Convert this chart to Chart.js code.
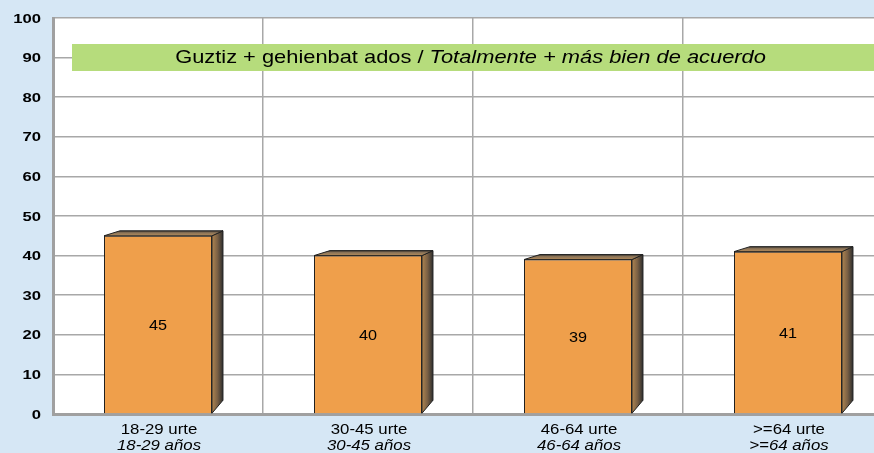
<!DOCTYPE html>
<html>
<head>
<meta charset="utf-8">
<script src="https://cdn.jsdelivr.net/npm/chart.js@4"></script>
<style>
  html, body { margin: 0; padding: 0; background: #d6e7f5; overflow: hidden; }
  #wrap { width: 900px; height: 453px; }
</style>
</head>
<body>
<div id="wrap"><canvas id="chart3d"></canvas></div>
<script>
// datos del grafico
const labelsEu = ['18-29 urte', '30-45 urte', '46-64 urte', '>=64 urte'];
const labelsEs = ['18-29 años', '30-45 años', '46-64 años', '>=64 años'];
const valores = [45, 40, 39, 41];
const yTicks = [0, 10, 20, 30, 40, 50, 60, 70, 80, 90, 100];
const tituloEu = 'Guztiz + gehienbat ados / ';
const tituloEs = 'Totalmente + más bien de acuerdo';

const FONT = '"Liberation Sans", Arial, sans-serif';

// texto algo estirado en horizontal, como en la imagen original
function texto(ctx, str, x, y, font, sx, align) {
    ctx.save();
    ctx.font = font;
    ctx.textBaseline = 'middle';
    ctx.textAlign = align || 'center';
    ctx.translate(x, y);
    ctx.scale(sx, 1);
    ctx.fillText(str, 0, 0);
    ctx.restore();
}

// barras con efecto 3d: cara superior y lateral
const bar3d = {
    id: 'bar3d',
    afterDatasetsDraw(chart) {
        const ctx = chart.ctx;
        const meta = chart.getDatasetMeta(0);
        meta.data.forEach((bar, i) => {
            const half = bar.width / 2;
            const l = bar.x - half, r = bar.x + half;
            const t = bar.y, b = bar.base;
            ctx.save();
            ctx.strokeStyle = '#222';
            ctx.lineWidth = 1;
            // lateral
            let g = ctx.createLinearGradient(r, 0, r + 11, 0);
            g.addColorStop(0, '#b08550');
            g.addColorStop(0.5, '#7a6045');
            g.addColorStop(1, '#2e2e2e');
            ctx.fillStyle = g;
            ctx.beginPath();
            ctx.moveTo(r, t);
            ctx.lineTo(r + 11, t - 5);
            ctx.lineTo(r + 11, b - 13);
            ctx.lineTo(r, b);
            ctx.closePath();
            ctx.fill();
            ctx.stroke();
            // arriba
            g = ctx.createLinearGradient(0, t - 5, 0, t);
            g.addColorStop(0, '#3a3530');
            g.addColorStop(0.4, '#8c7458');
            g.addColorStop(1, '#b48a58');
            ctx.fillStyle = g;
            ctx.beginPath();
            ctx.moveTo(l, t);
            ctx.lineTo(l + 16, t - 5);
            ctx.lineTo(r + 11, t - 5);
            ctx.lineTo(r, t);
            ctx.closePath();
            ctx.fill();
            ctx.stroke();
            ctx.restore();
            // etiqueta
            ctx.fillStyle = '#000';
            texto(ctx, String(valores[i]), bar.x, (t + b) / 2 + 1, '15px ' + FONT, 1.08);
        });
    }
};

// fondo blanco, banda verde con el titulo y etiquetas de los ejes
const extras = {
    id: 'extras',
    beforeDraw(chart) {
        const a = chart.chartArea;
        const ctx = chart.ctx;
        ctx.save();
        ctx.fillStyle = '#ffffff';
        ctx.fillRect(a.left, a.top, a.right - a.left, a.bottom - a.top);
        ctx.restore();
    },
    beforeDatasetsDraw(chart) {
        const ctx = chart.ctx;
        ctx.save();
        ctx.fillStyle = '#b6dc7c';
        ctx.fillRect(72, 44, 820, 27);
        const sx = 1.15;
        ctx.font = '19px ' + FONT;
        const w1 = ctx.measureText(tituloEu).width * sx;
        ctx.font = 'italic 19px ' + FONT;
        const w2 = ctx.measureText(tituloEs).width * sx;
        const x0 = 470.5 - (w1 + w2) / 2;
        ctx.fillStyle = '#000';
        texto(ctx, tituloEu, x0, 58, '19px ' + FONT, sx, 'left');
        texto(ctx, tituloEs, x0 + w1, 58, 'italic 19px ' + FONT, sx, 'left');
        ctx.restore();
    },
    afterDraw(chart) {
        const ctx = chart.ctx;
        const xs = chart.scales.x;
        const ys = chart.scales.y;
        ctx.save();
        ctx.fillStyle = '#000';
        labelsEu.forEach((lab, i) => {
            const px = xs.getPixelForValue(i) + 1;
            texto(ctx, lab, px, 430, '14px ' + FONT, 1.2);
            texto(ctx, labelsEs[i], px, 446, 'italic 14px ' + FONT, 1.2);
        });
        yTicks.forEach(v => {
            texto(ctx, String(v), 41, ys.getPixelForValue(v) + 1, 'bold 13px ' + FONT, 1.28, 'right');
        });
        ctx.restore();
    }
};

const ctx3 = document.getElementById('chart3d').getContext('2d');
new Chart(ctx3, {
    type: 'bar',
    data: {
        labels: labelsEu,
        datasets: [{
            data: valores,
            backgroundColor: '#ef9f4b',
            borderColor: '#1a1a1a',
            borderWidth: 1,
            categoryPercentage: 1,
            barPercentage: 0.514
        }]
    },
    options: {
        responsive: true,
        maintainAspectRatio: false,
        animation: false,
        layout: { padding: { top: 18, right: 7, left: 0, bottom: 0 } },
        plugins: { legend: { display: false }, tooltip: { enabled: false } },
        scales: {
            x: {
                afterFit: s => { s.height = 39; },
                ticks: { display: false },
                grid: { color: '#a8a8a8', lineWidth: 1.5, drawTicks: false, offset: true },
                border: { color: '#a0a0a0', width: 3 }
            },
            y: {
                min: 0, max: 100,
                afterFit: s => { s.width = 53; },
                afterBuildTicks: s => { s.ticks = yTicks.map(v => ({ value: v })); },
                ticks: { display: false },
                grid: { color: '#a8a8a8', lineWidth: 1.5, drawTicks: false },
                border: { color: '#a0a0a0', width: 3 }
            }
        }
    },
    plugins: [extras, bar3d]
});
</script>
</body>
</html>
